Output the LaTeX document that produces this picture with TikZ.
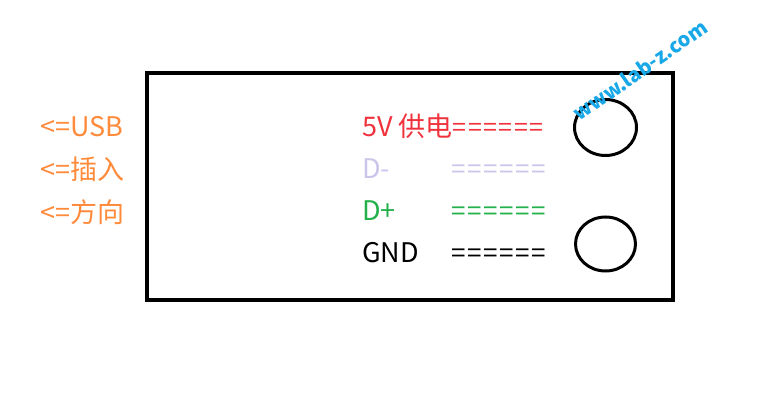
\documentclass[tikz,border=0pt]{standalone}
\usepackage{fontspec}
\newfontfamily\cjk{Noto Sans CJK SC}
\newfontfamily\cjkeq[LetterSpace=6]{Noto Sans CJK SC}
\definecolor{vcc}{HTML}{F0323C}
\definecolor{dminus}{HTML}{CCC4EA}
\definecolor{dplus}{HTML}{22B04A}
\definecolor{hint}{HTML}{FF8A3A}
\definecolor{mark}{HTML}{18A8E8}
\begin{document}
\begin{tikzpicture}[x=1pt,y=-1pt,
    every node/.style={inner sep=0pt, anchor=base west, font=\cjk\fontsize{27}{27}\selectfont},
    eqline/.style={anchor=base east, font=\cjkeq\fontsize{26}{26}\selectfont}]
        \useasboundingbox (0,0) rectangle (768,419);
        \draw[line width=4pt] (147,73.5) rectangle (673,300);
        \draw[line width=3pt] (605.5,127.5) ellipse [x radius=31, y radius=28];
        \draw[line width=3pt] (605.5,244) ellipse [x radius=30, y radius=27];
        \node[text=hint] (usb) at (40,137) {<=USB};
        \node[text=hint] (ins) at (40,180) {<=插入};
        \node[text=hint] (dir) at (40,223) {<=方向};
        \node[text=vcc] (vcc) at (362,137) {5V 供电{\cjkeq\fontsize{25}{25}\selectfont======}};
        \node[text=dminus] (dm) at (362,179) {D-};
        \node[text=dminus, eqline] (dmeq) at (546,179) {======};
        \node[text=dplus] (dp) at (362,221) {D+};
        \node[text=dplus, eqline] (dpeq) at (546,221) {======};
        \node (gnd) at (362,263) {GND};
        \node[eqline] (gndeq) at (546,263) {======};
        \node[text=mark, rotate=35, anchor=center, font=\cjk\bfseries\fontsize{20}{20}\selectfont] (site) at (640,70) {www.lab-z.com};
    \end{tikzpicture}
\end{document}
